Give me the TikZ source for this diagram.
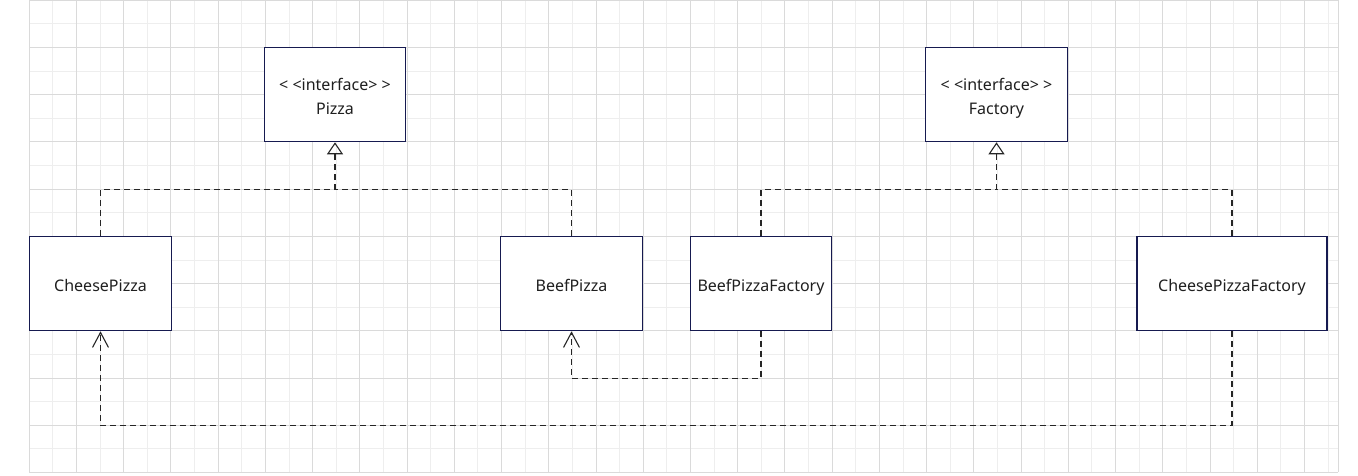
\documentclass[tikz,border=0pt]{standalone}
\usepackage{fontspec}
\setmainfont{Noto Sans}
\usetikzlibrary{arrows.meta,calc}
\definecolor{boxline}{RGB}{22,26,80}
\definecolor{gridminor}{RGB}{238,238,238}
\definecolor{gridmajor}{RGB}{218,218,218}
\begin{document}
\begin{tikzpicture}[x=1pt,y=-1pt,
	cls/.style={draw=boxline,line width=1.1pt,fill=white,inner sep=0pt,
		minimum width=141.5pt,minimum height=94.5pt,align=center,
		text=black!88,font=\fontsize{16}{24}\selectfont,
		text height=15pt,text depth=0pt},
	iface/.style={cls,text height=40pt},
	dep/.style={draw=black!85,line width=1.1pt,dash pattern=on 6pt off 4pt},
	realize/.style={-{Triangle[open,length=12pt,width=16pt]}},
	uses/.style={-{Straight Barb[length=15pt,width=16pt]}}]
	\useasboundingbox (0,0) rectangle (1358,475);

	% grid
	\foreach \i in {0,...,55}
		\draw[gridminor] ({29+\i*23.615},0) -- ({29+\i*23.615},472.3);
	\foreach \j in {0,...,20}
		\draw[gridminor] (29,{\j*23.615}) -- (1338,{\j*23.615});
	\foreach \i in {0,2,...,54}
		\draw[gridmajor] ({29+\i*23.615},0) -- ({29+\i*23.615},472.3);
	\foreach \j in {0,2,...,20}
		\draw[gridmajor] (29,{\j*23.615}) -- (1338,{\j*23.615});
	\draw[gridmajor] (1338,0) -- (1338,472.3);

	% interfaces
	\node[iface] (pizza) at (335,94.5) {< <interface> >\\Pizza};
	\node[iface] (factory) at (996.5,94.5) {< <interface> >\\Factory};

	% classes
	\node[cls] (cheese) at (100.5,283.5) {CheesePizza};
	\node[cls] (beef) at (571.5,283.5) {BeefPizza};
	\node[cls] (beefFactory) at (761,283.5) {BeefPizzaFactory};
	\node[cls,minimum width=190pt] (cheeseFactory) at (1232,283.5) {CheesePizzaFactory};

	% realizations
	\coordinate (pizzaJoin) at ($(pizza.south)+(0,47.3)$);
	\draw[dep] (cheese.north) |- (pizzaJoin);
	\draw[dep] (beef.north) |- (pizzaJoin);
	\draw[dep,realize] (pizzaJoin) -- (pizza.south);

	\coordinate (factoryJoin) at ($(factory.south)+(0,47.3)$);
	\draw[dep] (beefFactory.north) |- (factoryJoin);
	\draw[dep] (cheeseFactory.north) |- (factoryJoin);
	\draw[dep,realize] (factoryJoin) -- (factory.south);

	% dependencies
	\draw[dep,uses] (beefFactory.south) -- ++(0,47) -| (beef.south);
	\draw[dep,uses] (cheeseFactory.south) -- ++(0,94) -| (cheese.south);
\end{tikzpicture}
\end{document}
